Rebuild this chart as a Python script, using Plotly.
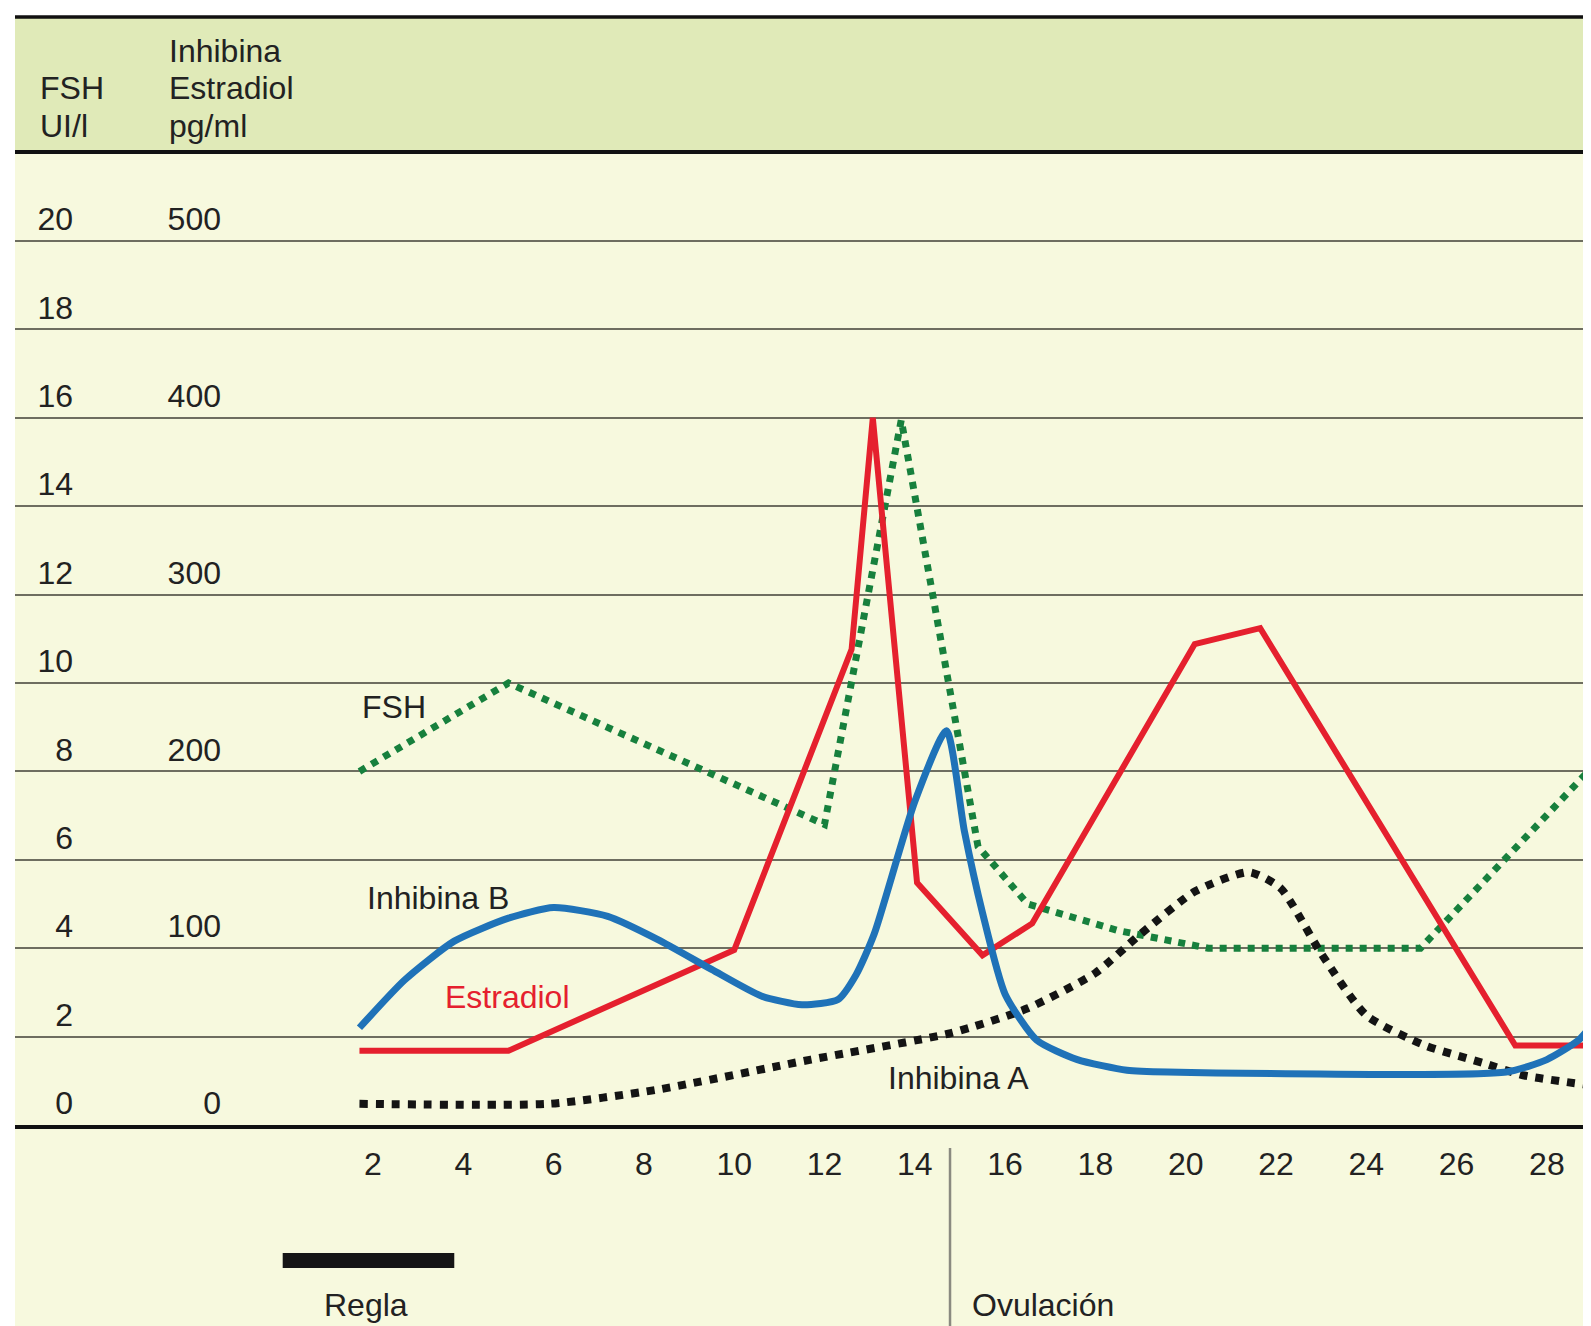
import plotly.graph_objects as go

# cycle day / hormone readings
fsh_days = [1.7, 5.0, 12.0, 13.7, 15.4, 16.5, 18.5, 20.5, 25.2, 29.1]
fsh_ui = [8.0, 10.0, 6.8, 15.95, 6.3, 5.0, 4.4, 4.0, 4.0, 8.2]

estradiol_days = [1.7, 5.0, 10.0, 12.6, 13.07, 14.05, 15.5, 16.6, 20.2, 21.65, 27.3, 29.1]
estradiol_pg = [42, 42, 99, 269, 400, 137, 96, 114, 272, 281, 45, 45]

inhb_days = [1.7, 2.7, 3.8, 5.0, 6.0, 7.2, 8.3, 9.5, 10.6, 11.5, 12.3, 12.7, 13.1,
             14.0, 14.7, 15.1, 15.5, 16.0, 16.7, 17.6, 18.7, 19.6, 27.1, 28.0, 28.7, 29.1]
inhb_pg = [55, 82, 104, 117, 123, 118, 105, 88, 73, 68, 71, 85, 108,
           183, 223, 166, 120, 74, 48, 37, 31, 30, 30, 37, 48, 60]

inha_days = [1.7, 5.9, 8.3, 11.7, 14.8, 16.5, 18.0, 19.0, 20.2, 21.4, 22.1, 23.0,
             24.0, 25.3, 26.6, 27.5, 29.1]
inha_pg = [12, 12, 20, 37, 52, 66, 86, 108, 132, 143, 134, 97, 62, 45, 35, 28, 22]

day_ticks = list(range(2, 29, 2))
fsh_ticks = list(range(0, 21, 2))
pg_ticks = [0, 100, 200, 300, 400, 500]
regla_days = [0, 3.8]
ovulation_day = 14.78

# page size; the page body adds an 8px margin, so the figure is drawn 8px smaller
W, H = 1591, 1326
BODY = 8
ML, MT, MB = 15, 154, 201
plot_w = W - ML
plot_h = H - MT - MB
px_per_unit = 44.2
y_top = plot_h / px_per_unit
x_min = (ML - 282.7) / 45.15
x_max = (W - 282.7) / 45.15

cream = "#f7f9de"
header_green = "#e0eab8"
grid = "#6e6e60"
txt = "#222222"
FONT = "Liberation Sans, Arial, sans-serif"
FS = 32


def py(px):
    # page pixel row -> paper y
    return (H - MB - px) / plot_h


def pxx(px):
    # page pixel column -> paper x
    return (px - ML) / plot_w


fig = go.Figure()

fig.add_trace(go.Scatter(x=inha_days, y=inha_pg, yaxis="y2", mode="lines",
                         line=dict(color="#141414", width=8, dash="dot", shape="spline", smoothing=0.6)))
fig.add_trace(go.Scatter(x=fsh_days, y=fsh_ui, mode="lines",
                         line=dict(color="#17803d", width=7, dash="dot")))
fig.add_trace(go.Scatter(x=estradiol_days, y=estradiol_pg, yaxis="y2", mode="lines",
                         line=dict(color="#e5202e", width=6)))
fig.add_trace(go.Scatter(x=inhb_days, y=inhb_pg, yaxis="y2", mode="lines",
                         line=dict(color="#1f72b8", width=7, shape="spline", smoothing=0.6)))

# series labels
labels = [("FSH", 1.71, 9.46, txt), ("Inhibina B", 1.82, 5.14, txt),
          ("Estradiol", 3.55, 2.89, "#e5202e"), ("Inhibina A", 13.36, 1.06, txt)]
for t, x, y, c in labels:
    fig.add_annotation(x=x, y=y, text=t, showarrow=False, xanchor="left", yanchor="middle",
                       font=dict(size=FS, color=c, family=FONT))

# header texts
header = [("FSH", 38, 88), ("UI/l", 38, 126), ("Inhibina", 167, 51),
          ("Estradiol", 167, 88), ("pg/ml", 167, 126)]
for t, xp, yp in header:
    fig.add_annotation(x=pxx(xp), y=py(yp), xref="paper", yref="paper", text=t,
                       showarrow=False, xanchor="left", yanchor="middle",
                       font=dict(size=FS, color=txt, family=FONT))

fig.add_annotation(x=sum(regla_days) / 2 - 0.05, y=py(1305), yref="paper", text="Regla",
                   showarrow=False, xanchor="center", yanchor="middle",
                   font=dict(size=FS, color=txt, family=FONT))
fig.add_annotation(x=ovulation_day + 0.44, y=py(1305), yref="paper", text="Ovulación",
                   showarrow=False, xanchor="left", yanchor="middle",
                   font=dict(size=FS, color=txt, family=FONT))

shapes = [
    # cream background of the panel
    dict(type="rect", xref="paper", yref="paper", x0=0, x1=1, y0=py(H + 5), y1=py(17),
         fillcolor=cream, line=dict(width=0), layer="below"),
    # header band
    dict(type="rect", xref="paper", yref="paper", x0=0, x1=1, y0=1, y1=py(17),
         fillcolor=header_green, line=dict(width=0), layer="below"),
    dict(type="line", xref="paper", yref="paper", x0=0, x1=1, y0=py(17), y1=py(17),
         line=dict(color="#111", width=3.5)),
    # ovulation separator
    dict(type="line", xref="x", yref="paper", x0=ovulation_day, x1=ovulation_day,
         y0=py(1148), y1=py(H + 5), line=dict(color="#8a8a80", width=2.5)),
    # menstruation bar
    dict(type="rect", xref="x", yref="paper", x0=regla_days[0], x1=regla_days[1],
         y0=py(1268), y1=py(1253), fillcolor="#151515", line=dict(width=0)),
]

fig.update_layout(
    width=W - BODY, height=H - BODY, autosize=False,
    margin=dict(l=ML - BODY, r=0, t=MT - BODY, b=MB, pad=0),
    paper_bgcolor="white", plot_bgcolor=cream,
    showlegend=False, shapes=shapes,
    font=dict(family=FONT, color=txt),
    xaxis=dict(range=[x_min, x_max], tickvals=day_ticks, showgrid=False, zeroline=False,
               showline=True, linecolor="#111", linewidth=3.5, mirror=True,
               ticks="outside", ticklen=8, tickcolor="rgba(0,0,0,0)",
               tickfont=dict(size=FS, color=txt, family=FONT)),
    yaxis=dict(range=[0, y_top], tickvals=fsh_ticks, showgrid=True, gridcolor=grid, gridwidth=2,
               zeroline=False, showline=False, ticks="", anchor="free",
               position=pxx(73), side="left", ticklabelshift=-22,
               tickfont=dict(size=FS, color=txt, family=FONT)),
    yaxis2=dict(range=[0, y_top * 25], tickvals=pg_ticks, showgrid=False, zeroline=False,
                showline=False, ticks="", overlaying="y", anchor="free",
                position=pxx(221), side="left", ticklabelshift=-22,
                tickfont=dict(size=FS, color=txt, family=FONT)),
)

fig.write_html("out.html")
